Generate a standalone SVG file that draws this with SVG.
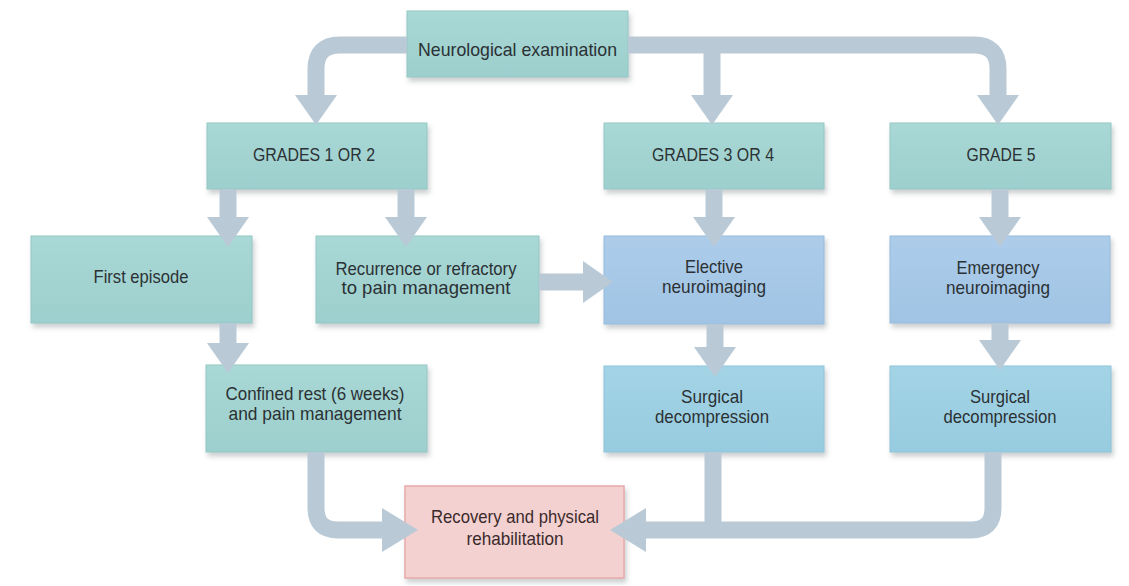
<svg xmlns="http://www.w3.org/2000/svg" width="1129" height="586" viewBox="0 0 1129 586">
<defs>
<filter id="sh" x="-10%" y="-10%" width="125%" height="135%">
<feDropShadow dx="2" dy="4" stdDeviation="2.5" flood-color="#6b7478" flood-opacity="0.35"/>
</filter>
<linearGradient id="gTeal" x1="0" y1="0" x2="0" y2="1">
<stop offset="0" stop-color="#a9d8d6"/><stop offset="1" stop-color="#9ccfcd"/>
</linearGradient>
<linearGradient id="gBlue" x1="0" y1="0" x2="0" y2="1">
<stop offset="0" stop-color="#acccea"/><stop offset="1" stop-color="#a1c4e4"/>
</linearGradient>
<linearGradient id="gCyan" x1="0" y1="0" x2="0" y2="1">
<stop offset="0" stop-color="#a3d4e6"/><stop offset="1" stop-color="#97cbdf"/>
</linearGradient>
<marker id="ah" markerUnits="userSpaceOnUse" markerWidth="30" markerHeight="42" viewBox="0 0 30 42" refX="0" refY="21" orient="auto">
<path d="M0,0 L30,21 L0,42 z" fill="#b9cad6"/>
</marker>
<marker id="ahL" markerUnits="userSpaceOnUse" markerWidth="36" markerHeight="44" viewBox="0 0 36 44" refX="0" refY="22" orient="auto">
<path d="M0,0 L36,22 L0,44 z" fill="#b9cad6"/>
</marker>
</defs>
<style>
.teal{fill:url(#gTeal);stroke:#93c7c4;stroke-width:1;filter:url(#sh)}
.blue{fill:url(#gBlue);stroke:#97bcdc;stroke-width:1;filter:url(#sh)}
.cyan{fill:url(#gCyan);stroke:#8ec4da;stroke-width:1;filter:url(#sh)}
.pink{fill:#f3d1d1;stroke:#e7a9aa;stroke-width:1.5;filter:url(#sh)}
text{font-family:"Liberation Sans",Arial,sans-serif;font-size:19px;fill:#2b3134;text-anchor:middle}
.dk{fill:#3b2a2c}
.c{fill:none;stroke:#b9cad6;stroke-width:17;stroke-linejoin:round}
.h{marker-end:url(#ah)}
.hl{marker-end:url(#ahL)}
</style>
<rect width="1129" height="586" fill="#ffffff"/>

<g id="n-neuro"><rect class="teal" x="407" y="11" width="221" height="66"/>
<text x="517.5" y="56" textLength="199" lengthAdjust="spacingAndGlyphs">Neurological examination</text></g>

<g id="n-g12"><rect class="teal" x="207" y="123" width="220" height="66"/>
<text x="314" y="161" textLength="122" lengthAdjust="spacingAndGlyphs">GRADES 1 OR 2</text></g>
<g id="n-g34"><rect class="teal" x="604" y="123" width="220" height="66"/>
<text x="713" y="161" textLength="122" lengthAdjust="spacingAndGlyphs">GRADES 3 OR 4</text></g>
<g id="n-g5"><rect class="teal" x="890" y="123" width="221" height="66"/>
<text x="1001" y="161" textLength="69" lengthAdjust="spacingAndGlyphs">GRADE 5</text></g>

<g id="n-first"><rect class="teal" x="31" y="236" width="221" height="87"/>
<text x="141" y="283" textLength="95" lengthAdjust="spacingAndGlyphs">First episode</text></g>
<g id="n-recur"><rect class="teal" x="316" y="236" width="223" height="87"/>
<text x="426" y="275" textLength="181" lengthAdjust="spacingAndGlyphs">Recurrence or refractory</text>
<text x="426" y="294" textLength="169" lengthAdjust="spacingAndGlyphs">to pain management</text></g>
<g id="n-elective"><rect class="blue" x="604" y="236" width="220" height="88"/>
<text x="714" y="273" textLength="58" lengthAdjust="spacingAndGlyphs">Elective</text>
<text x="714" y="293" textLength="104" lengthAdjust="spacingAndGlyphs">neuroimaging</text></g>
<g id="n-emerg"><rect class="blue" x="890" y="236" width="220" height="87"/>
<text x="998" y="274" textLength="83" lengthAdjust="spacingAndGlyphs">Emergency</text>
<text x="998" y="294" textLength="104" lengthAdjust="spacingAndGlyphs">neuroimaging</text></g>

<g id="n-rest"><rect class="teal" x="206" y="365" width="221" height="87"/>
<text x="315" y="400" textLength="179" lengthAdjust="spacingAndGlyphs">Confined rest (6 weeks)</text>
<text x="315" y="420" textLength="173" lengthAdjust="spacingAndGlyphs">and pain management</text></g>
<g id="n-surg1"><rect class="cyan" x="604" y="366" width="220" height="86"/>
<text x="712" y="403" textLength="62" lengthAdjust="spacingAndGlyphs">Surgical</text>
<text x="712" y="423" textLength="114" lengthAdjust="spacingAndGlyphs">decompression</text></g>
<g id="n-surg2"><rect class="cyan" x="890" y="366" width="221" height="86"/>
<text x="1000" y="403" textLength="60" lengthAdjust="spacingAndGlyphs">Surgical</text>
<text x="1000" y="423" textLength="113" lengthAdjust="spacingAndGlyphs">decompression</text></g>

<g id="n-recovery"><rect class="pink" x="405" y="486" width="219" height="92"/>
<text class="dk" x="515" y="523" textLength="168" lengthAdjust="spacingAndGlyphs">Recovery and physical</text>
<text class="dk" x="515" y="545" textLength="97" lengthAdjust="spacingAndGlyphs">rehabilitation</text></g>

<g id="connectors">
<path class="c h" d="M407,45 H340 Q316,45 316,69 V95"/>
<path class="c h" d="M628,45 H974 Q998,45 998,69 V95"/>
<path class="c h" d="M712,45 V95"/>
<path class="c h" d="M228,189 V217"/>
<path class="c h" d="M406,189 V217"/>
<path class="c h" d="M714,189 V217"/>
<path class="c h" d="M1000,189 V217"/>
<path class="c h" d="M539,282 H583"/>
<path class="c h" d="M228,323 V343"/>
<path class="c h" d="M715,324 V347"/>
<path class="c h" d="M1000,323 V340"/>
<path class="c hl" d="M316,452 V508 Q316,530 338,530 H382"/>
<path class="c hl" d="M993,452 V508 Q993,530 971,530 H646"/>
<path class="c" d="M713,452 V530"/>
</g>
</svg>
